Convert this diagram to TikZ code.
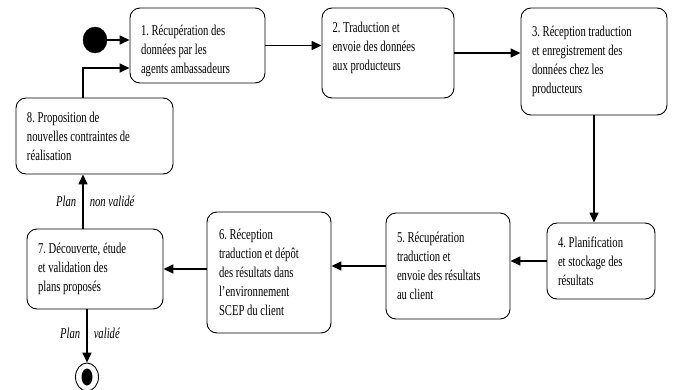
\documentclass[tikz,border=0pt]{standalone}
\usepackage{fontspec}
\setmainfont[FakeStretch=0.71]{Liberation Serif}
\usetikzlibrary{arrows.meta, positioning, shapes.geometric, calc}
\frenchspacing

\begin{document}
\begin{tikzpicture}[x=1pt, y=-1pt, font=\fontsize{15}{19}\selectfont,
  etape/.style={draw, rounded corners=10pt, align=flush left, inner sep=0pt, line width=0.9pt},
  fleche/.style={line width=1.5pt, -{Triangle[length=10pt,width=9pt]}},
  garde/.style={font=\fontsize{15}{19}\selectfont\itshape, inner sep=6pt}]
\useasboundingbox (0,0) rectangle (674,389);
% etats
\node[fill, draw, ellipse, minimum width=24pt, minimum height=26pt, inner sep=0pt] (debut) at (95,40) {};
\node[etape, minimum width=135pt, minimum height=75pt, text width=113pt, text height=22pt] (b1) at (197.5,45.5)
  {1. Récupération des\\données par les\\agents ambassadeurs};
\node[etape, minimum width=132pt, minimum height=90pt, text width=111pt, text depth=51pt] (b2) at (388,53)
  {2. Traduction et\\envoie des données\\aux producteurs};
\node[etape, minimum width=146pt, minimum height=107pt, text width=124pt] (b3) at (594,61.5)
  {3. Réception traduction\\et enregistrement des\\données chez les\\producteurs};
\node[etape, minimum width=108pt, minimum height=76pt, text width=86pt] (b4) at (601,261)
  {4. Planification\\et stockage des\\résultats};
\node[etape, minimum width=124pt, minimum height=106pt, text width=102pt] (b5) at (448,266)
  {5. Récupération\\traduction et\\envoie des résultats\\au client};
\node[etape, minimum width=124pt, minimum height=121pt, text width=100pt] (b6) at (269,272.5)
  {6. Réception\\traduction et dépôt\\des résultats dans\\l’environnement\\SCEP du client};
\node[etape, minimum width=136pt, minimum height=80pt, text width=114pt] (b7) at (95,269)
  {7. Découverte, étude\\et validation des\\plans proposés};
\node[etape, minimum width=157pt, minimum height=76pt, text width=135pt] (b8) at (94.5,136)
  {8. Proposition de\\nouvelles contraintes de\\réalisation};
\node[draw, ellipse, line width=0.9pt, minimum width=23pt, minimum height=28pt, inner sep=0pt] (fin) at (87,377) {};
\node[fill, ellipse, minimum width=11pt, minimum height=17pt, inner sep=0pt] (finpoint) at (fin) {};
% transitions
\draw[fleche] (debut) -- (debut -| b1.west);
\draw[fleche] (b1.east) -- (b1.east -| b2.west);
\draw[fleche] (b2.east) -- (b2.east -| b3.west);
\draw[fleche] (b3.south) -- (b3.south |- b4.north);
\draw[fleche] (b4.west) -- (b4.west -| b5.east);
\draw[fleche] (b5.west) -- (b5.west -| b6.east);
\draw[fleche] (b6.west |- b7.east) -- (b7.east);
\draw[fleche] ([xshift=-12pt]b7.north) -- ([xshift=-12pt]b7.north |- b8.south)
  node[garde, pos=0.5, left] {Plan} node[garde, pos=0.5, right] {non validé};
\draw[fleche] ([xshift=-11.5pt]b8.north) |- ([yshift=-22.5pt]b1.west);
\draw[fleche] ([xshift=-8pt]b7.south) -- ([xshift=-8pt]b7.south |- fin.north)
  node[garde, pos=0.45, left] {Plan} node[garde, pos=0.45, right] {validé};
\end{tikzpicture}
\end{document}
